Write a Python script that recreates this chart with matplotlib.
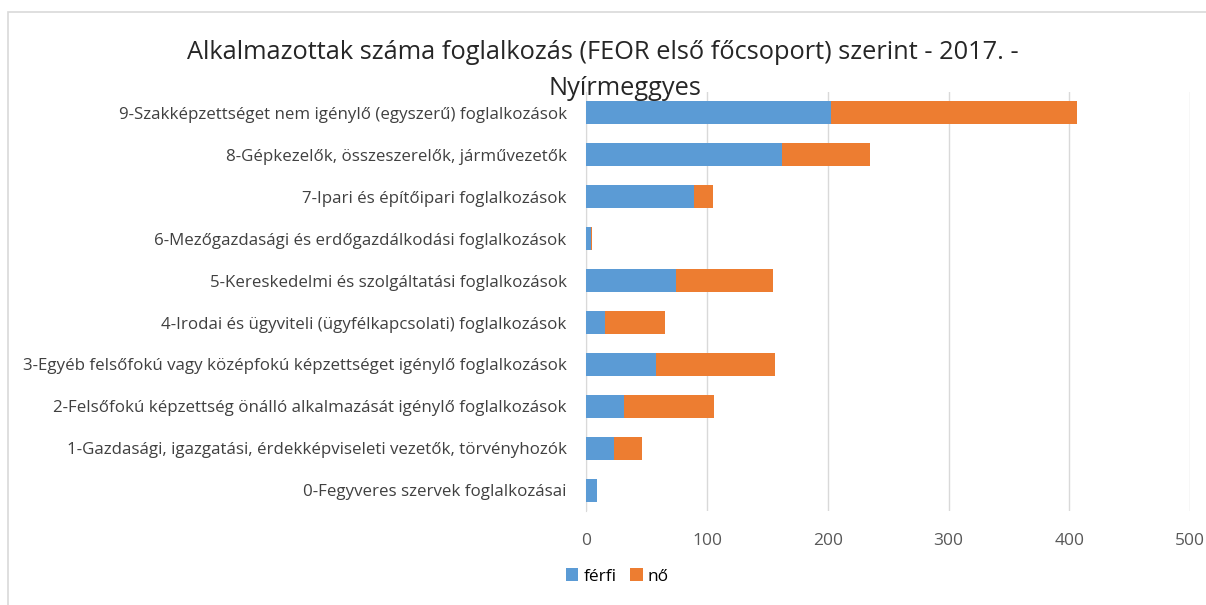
import matplotlib.pyplot as plt
from matplotlib.patches import Rectangle

categories = [
    "0-Fegyveres szervek foglalkozásai",
    "1-Gazdasági, igazgatási, érdekképviseleti vezetők, törvényhozók",
    "2-Felsőfokú képzettség önálló alkalmazását igénylő foglalkozások",
    "3-Egyéb felsőfokú vagy középfokú képzettséget igénylő foglalkozások",
    "4-Irodai és ügyviteli (ügyfélkapcsolati) foglalkozások",
    "5-Kereskedelmi és szolgáltatási foglalkozások",
    "6-Mezőgazdasági és erdőgazdálkodási foglalkozások",
    "7-Ipari és építőipari foglalkozások",
    "8-Gépkezelők, összeszerelők, járművezetők",
    "9-Szakképzettséget nem igénylő (egyszerű) foglalkozások",
]
ferfi = [9, 23, 31, 58, 16, 74, 4, 89, 162, 203]
no = [0, 23, 75, 98, 49, 81, 1, 16, 73, 203]

plt.rcParams['font.family'] = ['Open Sans', 'DejaVu Sans']

fig = plt.figure(figsize=(12.06, 6.05), dpi=100)
ax = fig.add_axes([0.486, 0.155, 0.501, 0.693])

y = range(len(categories))
ax.barh(y, ferfi, height=0.55, color="#5B9BD5", label="férfi", zorder=3)
ax.barh(y, no, left=ferfi, height=0.55, color="#ED7D31", label="nő", zorder=3)

ax.set_xlim(0, 500)
ax.set_ylim(-0.5, len(categories) - 0.5)
ax.set_xticks([0, 100, 200, 300, 400, 500])
ax.set_yticks(list(y))
ax.set_yticklabels(categories, fontsize=12.2, color="#404040")
ax.tick_params(axis='x', labelsize=12.5, colors="#595959", length=0, pad=16)
ax.tick_params(axis='y', length=0, pad=14)
ax.grid(axis='x', color="#D9D9D9", linewidth=1, zorder=0)
for s in ["top", "right", "bottom"]:
    ax.spines[s].set_visible(False)
ax.spines["left"].set_color("#D9D9D9")

fig.text(0.5, 0.914, "Alkalmazottak száma foglalkozás (FEOR első főcsoport) szerint - 2017. -",
         ha="center", va="center", fontsize=18.3, color="#262626")
fig.text(0.518, 0.853, "Nyírmeggyes", ha="center", va="center", fontsize=18.3, color="#262626")

fig.legend(loc="center", bbox_to_anchor=(0.512, 0.047), ncol=2, frameon=False,
           fontsize=12.5, handlelength=0.7, handleheight=0.7, handletextpad=0.3,
           columnspacing=0.8)

fig.patches.append(Rectangle((8 / 1206, -0.1), 1.2, 1.1 - 12 / 605,
                             transform=fig.transFigure, fill=False,
                             edgecolor="#D9D9D9", linewidth=1.2))

fig.savefig("out.png", dpi=100)
